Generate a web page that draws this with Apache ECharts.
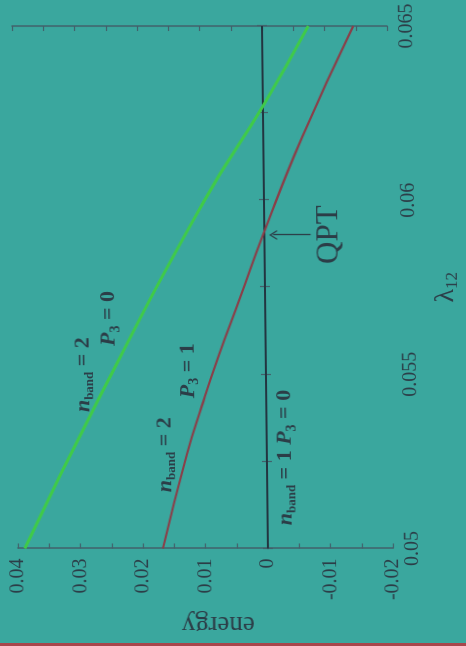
<!DOCTYPE html>
<html>
<head>
<meta charset="utf-8">
<script src="https://cdn.jsdelivr.net/npm/echarts@6/dist/echarts.min.js"></script>
<style>
  html, body { margin: 0; padding: 0; background: #3aa79e; overflow: hidden; }
  #stage { position: absolute; left: 0; top: 0; width: 466px; height: 646px;
           transform-origin: 0 26px; transform: skewX(0.65deg); }
  #chart { position: absolute; left: 0; top: 0; width: 646px; height: 466px;
           transform-origin: 0 0; transform: translateY(646px) rotate(-90deg); }
  #edge { position: absolute; left: 0; bottom: 0; width: 466px; height: 3px; background: #a8464c; }
</style>
</head>
<body>
<div id="stage"><div id="chart"></div></div>
<div id="edge"></div>
<script>
// Axis ranges and tick steps
const lambdaRange = [0.05, 0.065];
const lambdaStep = 0.005;
const energyRange = [-0.02, 0.04];
const energyStep = 0.01;

// Level energies versus coupling lambda_12
const lambdaBlack = [0.05, 0.065];
const energyBlack = [0, 0];

const lambdaRed = [0.05, 0.0527, 0.0541, 0.0555, 0.0572, 0.0591, 0.0618, 0.065];
const energyRed = [0.0168, 0.0128, 0.0103, 0.0076, 0.0040, 0.0, -0.0062, -0.0146];

const lambdaGreen = [0.05, 0.0544, 0.06, 0.0627, 0.065];
const energyGreen = [0.0389, 0.0265, 0.0095, 0.0, -0.0074];

// Crossing of the two lowest levels (quantum phase transition)
const qptLambda = 0.059;
const qptArrowEnergy = [-0.0074, -0.0014];

// State labels: rich-text string and anchor (lambda, energy)
const stateLabels = [
  { text: '{i|n}{sb|band}{t| = 2}', at: [0.0539, 0.0293] },
  { text: '{i|P}{s3|3}{t| = 0}', at: [0.0558, 0.0251] },
  { text: '{i|n}{sb|band}{t| = 2}', at: [0.0516, 0.0163] },
  { text: '{i|P}{s3|3}{t| = 1}', at: [0.0543, 0.0125] },
  { text: '{i|n}{sb|band}{t| = 1 }{i|P}{s3|3}{t| = 0}', at: [0.05065, -0.0029] }
];
const qptText = 'QPT';
const qptLabelAt = [0.05901, -0.0104];

const zip = (xs, ys) => xs.map((x, i) => [x, ys[i]]);

const FONT = 'Liberation Serif, Times New Roman, serif';
const INK = '#2b3d47';
const FRAME = '#41606a';

const fmt = v => String(+v.toFixed(4));

const richLabel = {
  i: { fontFamily: FONT, fontStyle: 'italic', fontWeight: 'bold', fontSize: 22, color: INK },
  sb: { fontFamily: FONT, fontWeight: 'bold', fontSize: 13, color: INK, padding: [14, 0, 0, 0] },
  s3: { fontFamily: FONT, fontWeight: 'bold', fontSize: 14, color: INK, padding: [14, 0, 0, 0] },
  t: { fontFamily: FONT, fontWeight: 'bold', fontSize: 22, color: INK }
};

const axisBase = {
  type: 'value',
  axisLine: { show: true, lineStyle: { color: FRAME, width: 1.5 } },
  axisTick: { show: true, inside: true, length: 5, lineStyle: { color: FRAME, width: 1.2 } },
  minorTick: { show: true, splitNumber: 2, length: 5, lineStyle: { color: FRAME, width: 1.2 } },
  splitLine: { show: false },
  minorSplitLine: { show: false }
};

const tickLabel = { fontFamily: FONT, fontSize: 20, color: INK, margin: 10, formatter: fmt };

const chart = echarts.init(document.getElementById('chart'), null, { renderer: 'canvas' });

chart.setOption({
  animation: false,
  backgroundColor: 'transparent',
  grid: { left: 93, right: 26, top: 12, bottom: 79 },
  xAxis: [
    Object.assign({}, axisBase, {
      min: lambdaRange[0], max: lambdaRange[1], interval: lambdaStep, position: 'bottom',
      axisLabel: tickLabel,
      name: '{l|λ}{s|12}', nameLocation: 'middle', nameGap: 40,
      nameTextStyle: {
        rich: {
          l: { fontFamily: FONT, fontSize: 28, color: INK },
          s: { fontFamily: FONT, fontSize: 17, color: INK, padding: [14, 0, 0, 0] }
        }
      }
    }),
    Object.assign({}, axisBase, {
      min: lambdaRange[0], max: lambdaRange[1], interval: lambdaStep, position: 'top',
      axisLabel: { show: false }
    })
  ],
  yAxis: [
    Object.assign({}, axisBase, {
      min: energyRange[0], max: energyRange[1], interval: energyStep, position: 'left',
      axisLabel: tickLabel,
      name: 'energy', nameLocation: 'middle', nameGap: 52,
      nameTextStyle: { fontFamily: FONT, fontSize: 27, color: INK, padding: [0, 24, 0, 0] }
    }),
    Object.assign({}, axisBase, {
      min: energyRange[0], max: energyRange[1], interval: energyStep, position: 'right',
      axisLabel: { show: false }
    })
  ],
  series: [
    {
      name: 'ground', type: 'line', data: zip(lambdaBlack, energyBlack),
      symbol: 'none', lineStyle: { color: '#223540', width: 2.2 }, z: 2,
      markLine: {
        silent: true, animation: false,
        symbol: ['none', 'path://M5,0 L10,10 L8.6,10 L5,2.8 L1.4,10 L0,10 Z'],
        symbolSize: [10, 8],
        label: { show: false },
        lineStyle: { color: INK, width: 1.3, type: 'solid' },
        data: [[{ coord: [qptLambda, qptArrowEnergy[0]] }, { coord: [qptLambda, qptArrowEnergy[1]] }]]
      },
      markPoint: {
        silent: true, animation: false,
        symbol: 'circle', symbolSize: 1, itemStyle: { color: 'transparent' },
        data: stateLabels.map(s => ({
          coord: s.at,
          label: { show: true, position: 'right', distance: 0, formatter: s.text, rich: richLabel }
        })).concat([{
          coord: qptLabelAt,
          label: { show: true, position: 'inside', formatter: qptText,
                   fontFamily: FONT, fontSize: 31, color: INK }
        }])
      }
    },
    {
      name: 'red', type: 'line', data: zip(lambdaRed, energyRed), smooth: true,
      symbol: 'none', lineStyle: { color: '#8a3e48', width: 2.2 }, z: 3
    },
    {
      name: 'green', type: 'line', data: zip(lambdaGreen, energyGreen), smooth: true,
      symbol: 'none', lineStyle: { color: '#3fca48', width: 3 }, z: 4
    }
  ]
});
</script>
</body>
</html>
